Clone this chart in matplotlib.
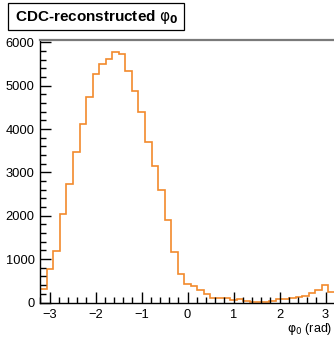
import numpy as np
import matplotlib
matplotlib.use("Agg")
import matplotlib.pyplot as plt
from matplotlib.patches import Rectangle
from matplotlib.ticker import MultipleLocator

plt.rcParams["font.family"] = ["Liberation Sans", "DejaVu Sans"]
plt.rcParams["mathtext.fontset"] = "dejavusans"

# 45 bins over [-3.2, 3.2]
x_lo, x_hi, n_bins = -3.2, 3.2, 45
counts = [300, 765, 1180, 2030, 2730, 3460, 4110, 4740, 5270, 5510,
          5620, 5785, 5740, 5335, 4880, 4390, 3695, 3145, 2605, 1900,
          1170, 665, 435, 390, 290, 190, 115, 95, 100, 50,
          70, 25, 8, 5, 5, 45, 85, 88, 97, 120,
          155, 215, 288, 396, 250]
y_ticks = [0, 1000, 2000, 3000, 4000, 5000, 6000]
x_ticks = [-3, -2, -1, 0, 1, 2, 3]
title = r"CDC-reconstructed $\mathrm{\varphi}_\mathbf{0}$"
x_label = r"$\mathrm{\varphi}_0$ (rad)"

W, H = 334, 338
fig = plt.figure(figsize=(W / 100, H / 100), dpi=100)
fig.patch.set_facecolor("white")

ax = fig.add_axes([40.3 / W, 35.5 / H, 294.5 / W, 263 / H])
edges = np.linspace(x_lo, x_hi, n_bins + 1)
ax.stairs(counts, edges, color="#f28a2c", lw=1.2, baseline=None)

ax.set_xlim(x_lo, x_hi)
ax.set_ylim(0, 6065)
ax.set_xticks(x_ticks)
ax.set_yticks(y_ticks)
ax.xaxis.set_minor_locator(MultipleLocator(0.2))
ax.yaxis.set_minor_locator(MultipleLocator(200))
ax.tick_params(which="both", direction="in", labelsize=9.3, colors="black")
ax.tick_params(which="major", length=8, width=1)
ax.tick_params(which="minor", length=4, width=1)
ax.tick_params(axis="x", pad=5)
ax.tick_params(axis="y", pad=4)

for s in ["left", "bottom"]:
    ax.spines[s].set_color("black")
    ax.spines[s].set_linewidth(1)
ax.spines["top"].set_color("#7a7a7a")
ax.spines["top"].set_linewidth(1.6)
ax.spines["right"].set_visible(False)

fig.text(332 / W, 1 - 329 / H, x_label, ha="right", va="center", fontsize=9)

# title box
fig.patches.append(Rectangle((7.5 / W, 1 - 30 / H), 176.5 / W, 26.5 / H,
                             transform=fig.transFigure, facecolor="white",
                             edgecolor="black", lw=0.9))
fig.text(15 / W, 1 - 17 / H, title, ha="left", va="center",
         fontsize=11, fontweight="bold")

fig.savefig("out.png", dpi=100)
